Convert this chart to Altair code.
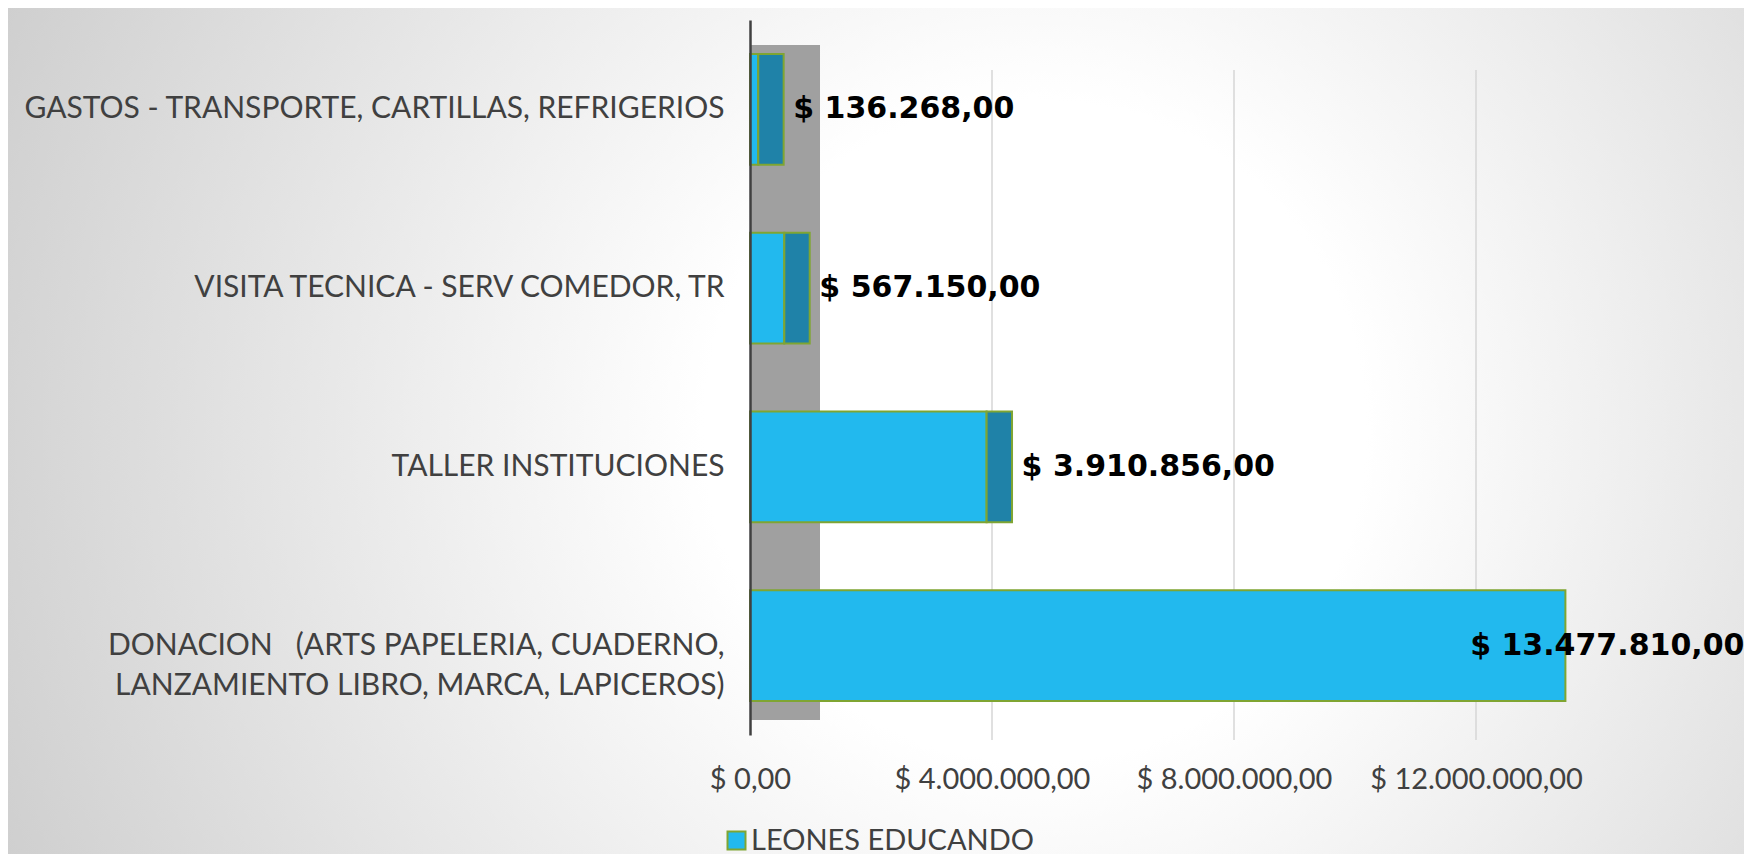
import altair as alt
import pandas as pd

categories = [
    "GASTOS - TRANSPORTE, CARTILLAS, REFRIGERIOS",
    "VISITA TECNICA - SERV COMEDOR, TR",
    "TALLER INSTITUCIONES",
    "DONACION \u00a0 (ARTS PAPELERIA, CUADERNO,\nLANZAMIENTO LIBRO, MARCA, LAPICEROS)",
]
values = [136268.00, 567150.00, 3910856.00, 13477810.00]
series_name = "LEONES EDUCANDO"
x_ticks = [0, 4000000, 8000000, 12000000]


def fmt(v):
    s = f"{v:,.2f}"
    s = s.replace(",", "_").replace(".", ",").replace("_", ".")
    return "$ " + s


df = pd.DataFrame({
    "cat": categories,
    "value": values,
    "label": [fmt(v) for v in values],
    "serie": [series_name] * len(values),
})
ticks_df = pd.DataFrame({"tick": x_ticks[1:]})

W, H = 847, 715
PAD = {"left": 742, "top": 12, "right": 147, "bottom": 119}

AX_FONT = "Lato"
GRAY_TXT = "#404040"
BAR = "#22B9EE"
SIDE = "#1F82A8"
EDGE = "#7FA532"

x_scale = alt.Scale(domain=[0, 14000000], nice=False)
y_scale = alt.Scale(paddingInner=0.38)

base = alt.Chart(df)

bg = base.mark_rect(
    color=alt.Gradient(
        gradient="radial",
        stops=[
            alt.GradientStop(color="#ffffff", offset=0),
            alt.GradientStop(color="#ffffff", offset=0.25),
            alt.GradientStop(color="#c2c2c2", offset=1),
        ],
        x1=0.56, y1=0.5, r1=0, x2=0.56, y2=0.5, r2=0.5,
    )
).encode(
    x=alt.value(-PAD["left"]), x2=alt.value(W + PAD["right"]),
    y=alt.value(-PAD["top"] - 900), y2=alt.value(H + PAD["bottom"] + 900),
)

wall = base.mark_rect(color="#a0a0a0").encode(
    x=alt.value(0), x2=alt.value(70), y=alt.value(25), y2=alt.value(700)
)

grid = alt.Chart(ticks_df).mark_rule(color="#d6d6d6", strokeWidth=1.5).encode(
    x=alt.X("tick:Q", scale=x_scale),
    y=alt.value(50), y2=alt.value(H + 5),
)

y_enc = alt.Y(
    "cat:N",
    sort=categories,
    title=None,
    scale=y_scale,
    axis=alt.Axis(
        labelExpr="split(datum.label, '\\n')",
        labelFont=AX_FONT, labelFontSize=30, labelColor=GRAY_TXT,
        labelLimit=800, labelPadding=26, labelLineHeight=40,
        ticks=False, domainColor="#404040", domainWidth=2.5,
        minExtent=742, maxExtent=742, grid=False, zindex=2,
    ),
)

x_enc = alt.X(
    "value:Q",
    title=None,
    scale=x_scale,
    axis=alt.Axis(
        values=x_ticks,
        labelExpr="'$ ' + replace(replace(replace(format(datum.value, ',.2f'), regexp(',', 'g'), '_'), regexp('\\\\.', 'g'), ','), regexp('_', 'g'), '.')",
        labelFont=AX_FONT, labelFontSize=29, labelColor=GRAY_TXT,
        labelPadding=30, labelLimit=500, labelFlush=False, labelOverlap=False,
        ticks=False, domain=False, grid=False, zindex=2,
    ),
)

bars = base.mark_bar(stroke=EDGE, strokeWidth=2).encode(
    x=x_enc,
    y=y_enc,
    color=alt.Color(
        "serie:N",
        scale=alt.Scale(range=[BAR]),
        legend=alt.Legend(
            title=None, orient="none", legendX=-28, legendY=806,
            symbolType="square", symbolSize=324, symbolStrokeColor=EDGE,
            symbolStrokeWidth=2, labelFont=AX_FONT, labelFontSize=29,
            labelColor=GRAY_TXT, labelOffset=0, padding=0, labelLimit=600,
        ),
    ),
)

side = base.transform_filter(alt.datum.value < 10000000).transform_calculate(
    depth="datum.value + 420000"
).mark_bar(color=SIDE, stroke=EDGE, strokeWidth=2).encode(
    x=alt.X("value:Q", scale=x_scale),
    x2="depth:Q",
    y=alt.Y("cat:N", sort=categories, scale=y_scale),
)

LBL = dict(font="DejaVu Sans", fontWeight="bold", fontSize=30, color="black",
           baseline="middle")

lbl_small = base.transform_filter(alt.datum.value < 10000000).mark_text(
    align="left", dx=35, **LBL
).encode(x="value:Q", y=alt.Y("cat:N", sort=categories), text="label:N")

lbl_big = base.transform_filter(alt.datum.value >= 10000000).mark_text(
    align="right", dx=179, **LBL
).encode(x="value:Q", y=alt.Y("cat:N", sort=categories), text="label:N")

chart = alt.layer(bg, wall, grid, bars, side, lbl_small, lbl_big).properties(
    width=W, height=H,
    autosize=alt.AutoSizeParams(type="none"),
    padding=PAD,
).configure_view(stroke=None).configure(background="#ffffff")

chart.save("out.html", embed_options={"renderer": "svg", "actions": False})
